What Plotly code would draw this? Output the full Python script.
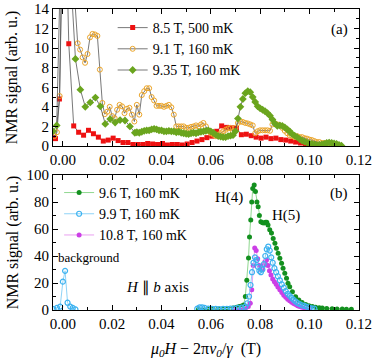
import plotly.graph_objects as go

# ---- panel (a) ----
x_85 = [-0.0040, -0.0030, -0.0014, 0.0005, 0.0024, 0.0044, 0.0064, 0.0084, 0.0104, 0.0124,
        0.0144, 0.0164, 0.0184, 0.0204, 0.0224, 0.0244, 0.0264, 0.0284, 0.0304, 0.0324,
        0.0344, 0.0364, 0.0384, 0.0404, 0.0424, 0.0444, 0.0464, 0.0484, 0.0504, 0.0524,
        0.0544, 0.0564, 0.0584, 0.0604, 0.0624, 0.0644, 0.0664, 0.0684, 0.0704, 0.0724,
        0.0744, 0.0764, 0.0784, 0.0804, 0.0824, 0.0844, 0.0864, 0.0884, 0.0904, 0.0924,
        0.0944, 0.0964, 0.0984, 0.1004]
y_85 = [0.85, 0.75, 4.8, 31.0, 10.45, 2.05, 1.4, 1.1, 1.6, 1.25,
        0.9, 0.5, 0.6, 0.8, 0.55, 0.35, 0.35, 0.15, 0.15, 0.15,
        0.25, 0.2, 0.15, 0.25, 0.1, 0.15, 0.15, 0.1, 0.2, 0.35,
        0.5, 0.65, 0.85, 1.0, 1.5, 2.05, 1.9, 1.85, 1.8, 1.15,
        1.2, 1.05, 0.9, 0.8, 0.9, 0.75, 0.8, 0.65, 0.6, 0.5,
        0.4, 0.3, 0.2, 0.1]

x_91 = [-0.0035, -0.0024, -0.0013, -0.0003, 0.0007, 0.0017, 0.0027, 0.0037, 0.0047,
        0.006, 0.007, 0.008, 0.009, 0.010, 0.011, 0.012, 0.013, 0.014, 0.015,
        0.016, 0.017, 0.018, 0.019, 0.020, 0.021, 0.022, 0.023, 0.024, 0.025,
        0.026, 0.027, 0.028, 0.029, 0.030, 0.031, 0.032, 0.033, 0.034, 0.035,
        0.036, 0.037, 0.038, 0.039, 0.040, 0.041, 0.042, 0.043, 0.044, 0.045,
        0.046, 0.047, 0.048, 0.049, 0.050, 0.051, 0.052, 0.053, 0.054, 0.055,
        0.056, 0.057, 0.058, 0.059, 0.060, 0.061, 0.062, 0.063, 0.064, 0.065,
        0.066, 0.067, 0.068, 0.069, 0.070, 0.071, 0.072, 0.073, 0.074, 0.075,
        0.076, 0.077, 0.078, 0.079, 0.080, 0.081, 0.082, 0.083, 0.084, 0.085,
        0.086, 0.087, 0.088, 0.089, 0.090, 0.091, 0.092, 0.093, 0.094, 0.095,
        0.096, 0.097, 0.098, 0.099, 0.100, 0.101, 0.102, 0.103, 0.104, 0.105,
        0.106, 0.107, 0.108, 0.109, 0.110, 0.111]
y_91 = [1.0, 1.4, 5.1, 22.0, 34.0, 30.0, 24.0, 19.0, 15.5,
        10.5, 9.85, 9.05, 8.5, 9.4, 11.1, 11.45, 11.4, 11.25, 7.8,
        4.4, 3.25, 3.5, 4.0, 3.05, 2.85, 3.7, 4.2, 4.05, 3.35,
        3.8, 3.9, 3.2, 2.5, 4.2, 3.2, 5.2, 5.6, 5.9, 5.9,
        5.0, 4.65, 4.1, 4.1, 4.1, 4.0, 4.1, 4.2, 3.95, 3.2,
        2.0, 2.0, 2.0, 2.0, 1.85, 1.85, 1.95, 2.0, 2.1, 2.0,
        2.2, 2.35, 2.0, 1.55, 1.3, 1.15, 1.0, 1.15, 1.3, 1.5,
        1.65, 1.8, 1.85, 1.5, 1.85, 2.35, 2.5, 2.45, 2.35, 2.3,
        2.2, 2.1, 1.3, 1.5, 1.6, 1.6, 1.6, 1.6, 1.55, 2.2,
        2.3, 2.2, 2.1, 1.85, 1.55, 1.3, 1.1, 1.0, 0.9, 1.0,
        0.9, 0.9, 0.8, 0.75, 0.65, 0.6, 0.5, 0.4, 0.4, 0.3,
        0.3, 0.3, 0.25, 0.2, 0.15, 0.1]

x_935 = [-0.0040, -0.0025, -0.0010, 0.0005, 0.0020, 0.0035, 0.0051, 0.0071, 0.0091,
         0.0111, 0.0132, 0.0152, 0.0172, 0.0192, 0.0212, 0.0232, 0.0252, 0.0272, 0.0292,
         0.030, 0.031, 0.032, 0.033, 0.034, 0.035, 0.036, 0.037, 0.038, 0.039,
         0.040, 0.041, 0.042, 0.043, 0.044, 0.045, 0.046, 0.047, 0.048, 0.049,
         0.050, 0.051, 0.052, 0.053, 0.054, 0.055, 0.056, 0.057, 0.058, 0.059,
         0.060, 0.061, 0.062, 0.063, 0.064, 0.065, 0.066, 0.067, 0.068, 0.069,
         0.070, 0.071, 0.072, 0.073, 0.074, 0.075, 0.076, 0.077, 0.078, 0.079,
         0.080, 0.081, 0.082, 0.083, 0.084, 0.085, 0.086, 0.087, 0.088, 0.089,
         0.090, 0.091, 0.092, 0.093, 0.094, 0.095, 0.096, 0.097, 0.098, 0.099,
         0.100, 0.101, 0.102, 0.103, 0.104, 0.105, 0.106, 0.107, 0.108, 0.109,
         0.110, 0.111, 0.112, 0.113]
y_935 = [1.5, 2.1, 18.0, 40.0, 30.0, 16.0, 8.9, 5.75, 4.0,
         4.45, 4.95, 4.05, 2.25, 2.75, 2.4, 2.65, 2.6, 2.0, 1.35,
         1.4, 1.35, 1.45, 1.55, 1.6, 1.6, 1.7, 1.75, 1.7, 1.6,
         1.6, 1.5, 1.5, 1.55, 1.5, 1.5, 1.4, 1.45, 1.35, 1.3,
         1.25, 1.2, 1.3, 1.35, 1.3, 1.4, 1.45, 1.5, 1.55, 1.6,
         1.5, 1.35, 1.15, 1.0, 0.95, 0.9, 0.9, 1.0, 1.05, 1.1,
         1.5, 2.8, 4.0, 4.8, 5.4, 5.6, 5.5, 5.0, 4.5, 4.05,
         3.85, 3.7, 3.55, 3.35, 3.1, 2.7, 2.3, 2.05, 2.1, 2.05,
         1.9, 1.7, 1.5, 1.2, 1.05, 0.9, 0.7, 0.55, 0.45, 0.35,
         0.25, 0.2, 0.15, 0.1, 0.1, 0.15, 0.2, 0.3, 0.35, 0.3,
         0.25, 0.2, 0.1, 0.02]

# ---- panel (b) ----
x_96 = [0.0550, 0.0570, 0.0590, 0.0610, 0.0630, 0.0650, 0.0670, 0.0690, 0.0705, 0.0715,
        0.0725, 0.0733, 0.0740, 0.0746, 0.0753, 0.0757, 0.0762, 0.0766, 0.0770, 0.0776,
        0.0781, 0.0787, 0.0792, 0.0797, 0.0803, 0.0810, 0.0816, 0.0822, 0.0827, 0.0832,
        0.0839, 0.0846, 0.0853, 0.0860, 0.0866, 0.0873, 0.0880, 0.0887, 0.0893, 0.0900,
        0.0907, 0.0913, 0.0920, 0.0931, 0.0944, 0.0957, 0.0970, 0.0985, 0.0998, 0.1012,
        0.1025, 0.1040, 0.1052, 0.1070, 0.1092, 0.1112, 0.1133, 0.1150, 0.1170]
y_96 = [0.5, 0.6, 0.6, 0.7, 0.8, 1.0, 1.2, 1.5, 2.0, 2.5,
        3.0, 3.7, 10.0, 22.0, 38.5, 54.0, 66.7, 80.0, 90.0, 92.6,
        87.7, 80.0, 76.5, 70.0, 65.4, 64.6, 64.5, 65.0, 65.0, 63.0,
        59.5, 57.0, 53.0, 49.4, 45.7, 42.0, 38.3, 34.6, 30.9, 27.2,
        23.5, 19.8, 17.3, 13.6, 9.9, 7.4, 5.5, 4.0, 3.2, 2.5,
        2.0, 1.7, 1.5, 1.2, 1.0, 0.8, 0.7, 0.6, 0.5]

x_99 = [-0.0038, -0.0024, -0.0011, 0.0000, 0.0009, 0.0019, 0.0030, 0.0040, 0.0051, None,
        0.0545, 0.0555, 0.0565, 0.0575, 0.0590, 0.0605, 0.0620, 0.0635, 0.0650, 0.0665,
        0.0680, 0.0695, 0.0710, 0.0725, 0.0740, 0.0748, 0.0755, 0.0761, 0.0767, 0.0773,
        0.0779, 0.0785, 0.0791, 0.0797, 0.0803, 0.0809, 0.0815, 0.0821, 0.0827, 0.0833,
        0.0839, 0.0845, 0.0851, 0.0858, 0.0865, 0.0872, 0.0880, 0.0888, 0.0896, 0.0904,
        0.0912, 0.0920, 0.0928, 0.0936, 0.0944, 0.0952, 0.0960, 0.0970, 0.0980, 0.0990,
        0.1000, 0.1010, 0.1020]
y_99 = [0.7, 1.5, 2.5, 21.0, 29.0, 5.4, 2.5, 1.5, 0.4, None,
        1.0, 2.0, 2.0, 1.5, 1.0, 0.8, 0.8, 0.7, 0.8, 0.9,
        1.0, 1.2, 1.5, 1.8, 2.5, 5.0, 10.0, 18.5, 28.0, 35.0,
        39.0, 37.0, 32.0, 29.0, 28.0, 30.0, 34.0, 40.0, 45.0, 47.0,
        44.0, 39.0, 35.0, 31.0, 28.0, 25.0, 22.0, 19.0, 16.5, 14.0,
        12.0, 10.5, 9.0, 7.5, 6.3, 5.2, 4.4, 3.5, 3.0, 2.3,
        1.5, 1.2, 1.0]

x_108 = [0.0700, 0.0720, 0.0740, 0.0752, 0.0760, 0.0766, 0.0772, 0.0778, 0.0784, 0.0790,
         0.0796, 0.0802, 0.0808, 0.0814, 0.0820, 0.0826, 0.0832, 0.0838, 0.0844, 0.0851,
         0.0858, 0.0865, 0.0872, 0.0880, 0.0888, 0.0896, 0.0904, 0.0912, 0.0920, 0.0928,
         0.0936, 0.0944, 0.0952, 0.0960, 0.0970, 0.0980, 0.0990, 0.1000]
y_108 = [0.5, 0.8, 1.2, 2.5, 5.0, 15.0, 33.0, 46.0, 44.0, 38.0,
         33.0, 30.0, 30.0, 33.0, 36.0, 37.0, 33.0, 29.0, 26.0, 23.0,
         21.0, 19.0, 17.0, 15.0, 13.0, 11.0, 9.5, 8.0, 6.8, 5.8,
         4.8, 4.0, 3.2, 2.6, 2.0, 1.5, 1.0, 0.6]

serif = "Liberation Serif, Times New Roman, serif"
gray = "#555555"

fig = go.Figure()

fig.add_trace(go.Scatter(x=x_85, y=y_85, name="8.5 T, 500 mK", mode="lines+markers",
                         line=dict(color=gray, width=0.8),
                         marker=dict(symbol="square", size=5, color="#ee1111"),
                         xaxis="x", yaxis="y", legend="legend"))
fig.add_trace(go.Scatter(x=x_91, y=y_91, name="9.1 T, 160 mK", mode="lines+markers",
                         line=dict(color=gray, width=0.8),
                         marker=dict(symbol="circle-open", size=5, color="#eba52a",
                                     line=dict(width=1)),
                         xaxis="x", yaxis="y", legend="legend"))
fig.add_trace(go.Scatter(x=x_935, y=y_935, name="9.35 T, 160 mK", mode="lines+markers",
                         line=dict(color=gray, width=0.8),
                         marker=dict(symbol="diamond", size=6, color="#6aa51e"),
                         xaxis="x", yaxis="y", legend="legend"))

fig.add_trace(go.Scatter(x=x_96, y=y_96, name="9.6 T, 160 mK", mode="lines+markers",
                         line=dict(color="#90d890", width=1),
                         marker=dict(symbol="circle", size=5, color="#13901f"),
                         xaxis="x2", yaxis="y2", legend="legend2", legendrank=1))
fig.add_trace(go.Scatter(x=x_108, y=y_108, name="10.8 T, 160 mK", mode="lines+markers",
                         line=dict(color="#eaa0f0", width=1),
                         marker=dict(symbol="circle", size=5, color="#cc3fe6"),
                         xaxis="x2", yaxis="y2", legend="legend2", legendrank=3))
fig.add_trace(go.Scatter(x=x_99, y=y_99, name="9.9 T, 160 mK", mode="lines+markers",
                         connectgaps=False,
                         line=dict(color="#8fd3f7", width=1),
                         marker=dict(symbol="circle-open", size=5, color="#3cb2f0",
                                     line=dict(width=1.2)),
                         xaxis="x2", yaxis="y2", legend="legend2", legendrank=2))

axis_common = dict(
    showline=True, linecolor="black", linewidth=1, mirror="allticks", automargin=False,
    ticks="inside", ticklen=5, tickcolor="black", showgrid=False, zeroline=False,
    tickfont=dict(family=serif, size=15, color="black"),
)
x_common = dict(axis_common, range=[-0.004, 0.1201], tickvals=[0, 0.02, 0.04, 0.06, 0.08, 0.10, 0.12],
                ticktext=["0.00", "0.02", "0.04", "0.06", "0.08", "0.10", "0.12"],
                minor=dict(ticks="inside", ticklen=3, tickvals=[0.01, 0.03, 0.05, 0.07, 0.09, 0.11],
                           tickcolor="black"))

fig.update_layout(
    width=374, height=364,
    margin=dict(l=53, r=15, t=9, b=54),
    paper_bgcolor="white", plot_bgcolor="white",
    font=dict(family=serif, size=15, color="black"),
    xaxis=dict(x_common, domain=[0, 1], anchor="y"),
    yaxis=dict(axis_common, domain=[0.545, 1], anchor="x", range=[0, 14], dtick=2,
               minor=dict(ticks="inside", ticklen=3, dtick=1, tickcolor="black"),
               title=dict(text="NMR signal (arb. u.)", font=dict(family=serif, size=16), standoff=12)),
    xaxis2=dict(x_common, domain=[0, 1], anchor="y2",
                title=dict(text="<i>μ<sub>0</sub>H</i> − 2π<i>ν<sub>0</sub></i>/<i>γ</i>  (T)",
                           font=dict(family=serif, size=16), standoff=11)),
    yaxis2=dict(axis_common, domain=[0, 0.4485], anchor="x2", range=[0, 100], dtick=20,
                minor=dict(ticks="inside", ticklen=3, dtick=10, tickcolor="black"),
                title=dict(text="NMR signal (arb. u.)", font=dict(family=serif, size=16), standoff=3)),
    legend=dict(x=0.195, y=0.99, xanchor="left", yanchor="top", bgcolor="rgba(0,0,0,0)",
                font=dict(family=serif, size=14), itemwidth=30, tracegroupgap=0),
    legend2=dict(x=0.02, y=0.442, xanchor="left", yanchor="top", bgcolor="rgba(0,0,0,0)",
                 font=dict(family=serif, size=14), itemwidth=30, tracegroupgap=0),
    showlegend=True,
)

ann_font = dict(family=serif, size=15, color="black")
fig.add_annotation(x=0.112, y=11.9, xref="x", yref="y", text="(a)", showarrow=False, font=ann_font)
fig.add_annotation(x=0.112, y=86, xref="x2", yref="y2", text="(b)", showarrow=False, font=ann_font)
fig.add_annotation(x=0.0675, y=83, xref="x2", yref="y2", text="H(4)", showarrow=False, font=ann_font)
fig.add_annotation(x=0.0905, y=70, xref="x2", yref="y2", text="H(5)", showarrow=False, font=ann_font)
fig.add_annotation(x=0.0105, y=39, xref="x2", yref="y2", text="background", showarrow=False,
                   xanchor="center", font=dict(family=serif, size=13, color="black"))
fig.add_annotation(x=0.0385, y=17, xref="x2", yref="y2", text="<i>H</i> ∥ <i>b</i> axis",
                   showarrow=False, font=ann_font)

# the page body keeps its default 8px margin otherwise
fig.write_html("out.html", config={"displayModeBar": False},
               post_script="document.body.style.margin = '0px';")
